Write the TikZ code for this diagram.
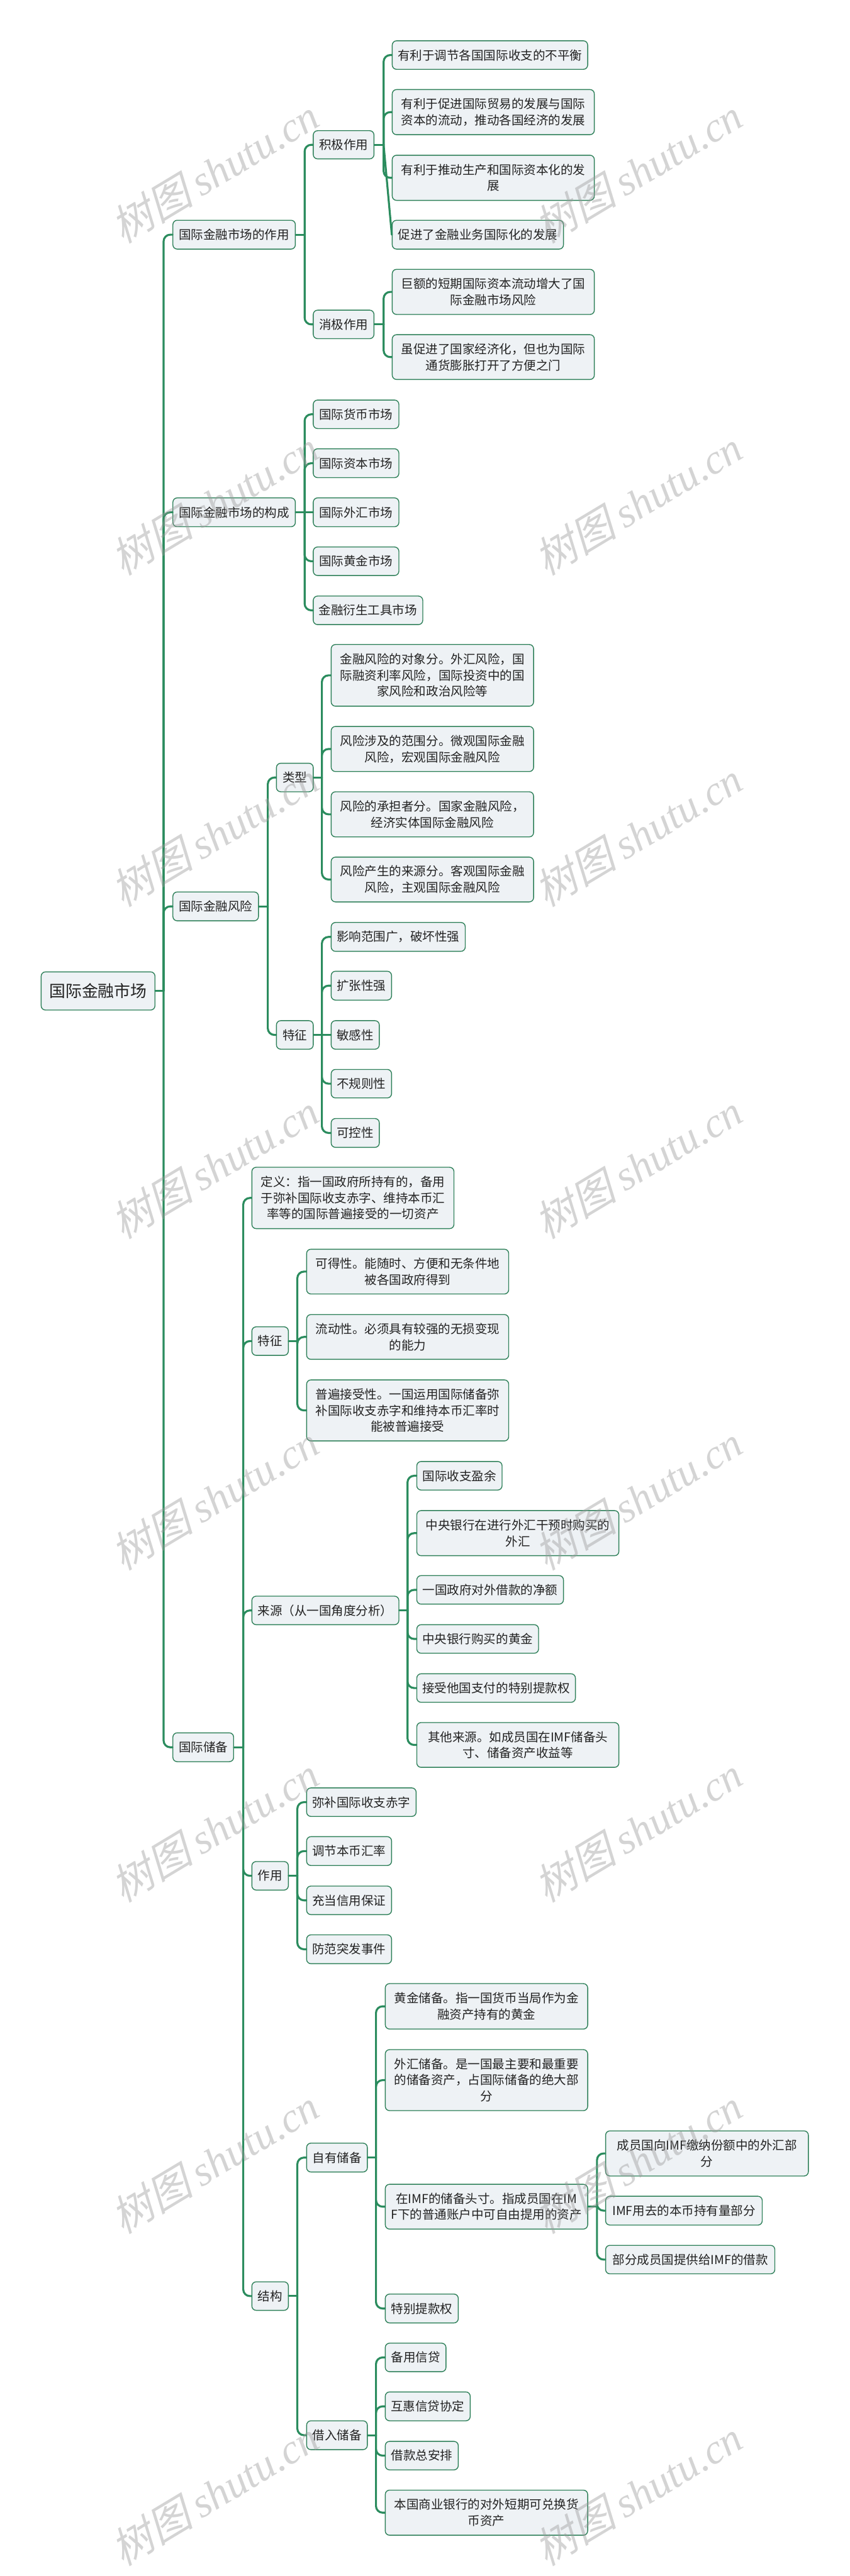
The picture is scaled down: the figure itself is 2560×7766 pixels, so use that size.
\documentclass[tikz,border=0pt]{standalone}
\usepackage{fontspec}
\newfontfamily\cjk{Noto Sans CJK SC}
\newfontfamily\wmcjk[FakeSlant=0.25]{Noto Sans CJK SC}
\newfontfamily\wmlat{Liberation Serif}
\definecolor{linkc}{HTML}{2B8C5E}
\definecolor{boxc}{HTML}{2E8059}
\definecolor{boxfill}{HTML}{EEF2F5}
\definecolor{textc}{HTML}{222222}
\newcommand\mnode[6][]{\node[box,#1,minimum width={(#4-#2)*0.5pt},minimum height={(#5-#3)*0.5pt}] (#6) at ({(#2+#4)/2},{(#3+#5)/2})}
\begin{document}
\begin{tikzpicture}[x=0.5pt,y=-0.5pt,
  box/.style={draw=boxc,line width=1.3pt,fill=boxfill,rounded corners=6.5pt,text=textc,
    inner sep=0pt,align=center,font=\cjk\fontsize{18.5pt}{24.3pt}\selectfont},
  rootbox/.style={font=\cjk\fontsize{24.5pt}{30pt}\selectfont},
  link/.style={draw=linkc,line width=3pt,rounded corners=10pt,line cap=round},
  wm/.style={rotate=31,text=black!40,text opacity=0.42,inner sep=0pt,font=\fontsize{63pt}{68pt}\selectfont}]
\useasboundingbox (0,0) rectangle (2560,7766);
\fill[white] (0,0) rectangle (2560,7766);

% root
\mnode[rootbox]{124}{2930}{467}{3045}{R}{国际金融市场};
% level 1
\mnode{521}{664}{890}{751}{A}{国际金融市场的作用};
\mnode{521}{1501}{890}{1588}{B}{国际金融市场的构成};
\mnode{521}{2689}{779}{2776}{C}{国际金融风险};
\mnode{521}{5224}{704}{5311}{D}{国际储备};
% A
\mnode{944}{394}{1127}{479}{A1}{积极作用};
\mnode{944}{935}{1127}{1021}{A2}{消极作用};
\mnode{1182}{123}{1771}{209}{A11}{有利于调节各国国际收支的不平衡};
\mnode{1182}{270}{1791}{406}{A12}{有利于促进国际贸易的发展与国际\\资本的流动，推动各国经济的发展};
\mnode{1182}{468}{1791}{604}{A13}{有利于推动生产和国际资本化的发\\展};
\mnode{1182}{664}{1698}{751}{A14}{促进了金融业务国际化的发展};
\mnode{1182}{812}{1791}{948}{A21}{巨额的短期国际资本流动增大了国\\际金融市场风险};
\mnode{1182}{1009}{1791}{1144}{A22}{虽促进了国家经济化，但也为国际\\通货膨胀打开了方便之门};
% B
\mnode{944}{1206}{1202}{1292}{B1}{国际货币市场};
\mnode{944}{1353}{1202}{1440}{B2}{国际资本市场};
\mnode{944}{1501}{1202}{1588}{B3}{国际外汇市场};
\mnode{944}{1649}{1202}{1735}{B4}{国际黄金市场};
\mnode{944}{1797}{1274}{1883}{B5}{金融衍生工具市场};
% C
\mnode{833}{2301}{944}{2387}{C1}{类型};
\mnode{833}{3077}{944}{3163}{C2}{特征};
\mnode{998}{1943}{1608}{2129}{C11}{金融风险的对象分。外汇风险，国\\际融资利率风险，国际投资中的国\\家风险和政治风险等};
\mnode{998}{2190}{1608}{2326}{C12}{风险涉及的范围分。微观国际金融\\风险，宏观国际金融风险};
\mnode{998}{2387}{1608}{2523}{C13}{风险的承担者分。国家金融风险，\\经济实体国际金融风险};
\mnode{998}{2584}{1608}{2719}{C14}{风险产生的来源分。客观国际金融\\风险，主观国际金融风险};
\mnode{998}{2781}{1402}{2868}{C21}{影响范围广，破坏性强};
\mnode{998}{2928}{1180}{3015}{C22}{扩张性强};
\mnode{998}{3077}{1143}{3163}{C23}{敏感性};
\mnode{998}{3224}{1180}{3310}{C24}{不规则性};
\mnode{998}{3372}{1143}{3459}{C25}{可控性};
% D
\mnode{759}{3519}{1368}{3704}{D1}{定义：指一国政府所持有的，备用\\于弥补国际收支赤字、维持本币汇\\率等的国际普遍接受的一切资产};
\mnode{759}{4000}{869}{4086}{D2}{特征};
\mnode{759}{4812}{1202}{4898}{D3}{来源（从一国角度分析）};
\mnode{759}{5612}{869}{5698}{D4}{作用};
\mnode{759}{6879}{869}{6965}{D5}{结构};
\mnode{924}{3766}{1533}{3901}{D21}{可得性。能随时、方便和无条件地\\被各国政府得到};
\mnode{924}{3963}{1533}{4098}{D22}{流动性。必须具有较强的无损变现\\的能力};
\mnode{924}{4160}{1533}{4344}{D23}{普遍接受性。一国运用国际储备弥\\补国际收支赤字和维持本币汇率时\\能被普遍接受};
\mnode{1256}{4406}{1513}{4492}{D31}{国际收支盈余};
\mnode{1256}{4554}{1865}{4690}{D32}{中央银行在进行外汇干预时购买的\\外汇};
\mnode{1256}{4750}{1698}{4836}{D33}{一国政府对外借款的净额};
\mnode{1256}{4898}{1623}{4984}{D34}{中央银行购买的黄金};
\mnode{1256}{5046}{1734}{5132}{D35}{接受他国支付的特别提款权};
\mnode{1256}{5193}{1865}{5328}{D36}{其他来源。如成员国在IMF储备头\\寸、储备资产收益等};
\mnode{924}{5390}{1254}{5476}{D41}{弥补国际收支赤字};
\mnode{924}{5537}{1180}{5624}{D42}{调节本币汇率};
\mnode{924}{5686}{1180}{5772}{D43}{充当信用保证};
\mnode{924}{5833}{1180}{5920}{D44}{防范突发事件};
\mnode{924}{6461}{1107}{6548}{D51}{自有储备};
\mnode{924}{7298}{1107}{7385}{D52}{借入储备};
\mnode{1161}{5980}{1771}{6117}{D511}{黄金储备。指一国货币当局作为金\\融资产持有的黄金};
\mnode{1161}{6179}{1771}{6363}{D512}{外汇储备。是一国最主要和最重要\\的储备资产，占国际储备的绝大部\\分};
\mnode{1161}{6585}{1771}{6720}{D513}{在IMF的储备头寸。指成员国在IM\\F下的普通账户中可自由提用的资产};
\mnode{1161}{6916}{1381}{7003}{D514}{特别提款权};
\mnode{1825}{6424}{2436}{6560}{D5131}{成员国向IMF缴纳份额中的外汇部\\分};
\mnode{1825}{6621}{2297}{6708}{D5132}{IMF用去的本币持有量部分};
\mnode{1825}{6769}{2335}{6855}{D5133}{部分成员国提供给IMF的借款};
\mnode{1161}{7064}{1344}{7150}{D521}{备用信贷};
\mnode{1161}{7211}{1417}{7298}{D522}{互惠信贷协定};
\mnode{1161}{7360}{1381}{7446}{D523}{借款总安排};
\mnode{1161}{7507}{1771}{7643}{D524}{本国商业银行的对外短期可兑换货\\币资产};

% junctions
\coordinate (jR) at (R.east -| 493,0);
\coordinate (jA) at (A.east -| 918,0);
\coordinate (jB) at (B.east -| 918,0);
\coordinate (jC) at (C.east -| 807,0);
\coordinate (jD) at (D.east -| 733,0);
\coordinate (jA1) at (A1.east -| 1156,0);
\coordinate (jA2) at (A2.east -| 1156,0);
\coordinate (jC1) at (C1.east -| 970,0);
\coordinate (jC2) at (C2.east -| 970,0);
\coordinate (jD2) at (D2.east -| 896,0);
\coordinate (jD3) at (D3.east -| 1228,0);
\coordinate (jD4) at (D4.east -| 896,0);
\coordinate (jD5) at (D5.east -| 896,0);
\coordinate (jD51) at (D51.east -| 1133,0);
\coordinate (jD52) at (D52.east -| 1133,0);
\coordinate (jD513) at (D513.east -| 1799,0);

% stubs
\foreach \p in {R,A,B,C,D,A1,A2,C1,C2,D2,D3,D4,D5,D51,D52,D513}
  \draw[link] (\p.east) -- (j\p);

% branches
\foreach \c in {A,B,C,D} \draw[link] (jR) |- (\c.west);
\foreach \c in {A1,A2} \draw[link] (jA) |- (\c.west);
\foreach \c in {A11,A12,A13} \draw[link] (jA1) |- (\c.west);
\draw[link] (jA1) -- (A14.west);
\foreach \c in {A21,A22} \draw[link] (jA2) |- (\c.west);
\foreach \c in {B1,B2,B4,B5} \draw[link] (jB) |- (\c.west);
\draw[link] (jB) -- (B3.west);
\foreach \c in {C1,C2} \draw[link] (jC) |- (\c.west);
\foreach \c in {C11,C12,C13,C14} \draw[link] (jC1) |- (\c.west);
\foreach \c in {C21,C22,C24,C25} \draw[link] (jC2) |- (\c.west);
\draw[link] (jC2) -- (C23.west);
\foreach \c in {D1,D2,D3,D4,D5} \draw[link] (jD) |- (\c.west);
\foreach \c in {D21,D22,D23} \draw[link] (jD2) |- (\c.west);
\foreach \c in {D31,D32,D33,D34,D35,D36} \draw[link] (jD3) |- (\c.west);
\foreach \c in {D41,D42,D43,D44} \draw[link] (jD4) |- (\c.west);
\foreach \c in {D51,D52} \draw[link] (jD5) |- (\c.west);
\foreach \c in {D511,D512,D513,D514} \draw[link] (jD51) |- (\c.west);
\foreach \c in {D5131,D5132,D5133} \draw[link] (jD513) |- (\c.west);
\foreach \c in {D521,D522,D523,D524} \draw[link] (jD52) |- (\c.west);

% watermarks
\foreach \k in {0,...,7}{
  \node[wm] (wl\k) at (646,{516+1000*\k}) {\wmcjk 树图\hspace{0.2em}\wmlat\itshape shutu.cn};
  \node[wm] (wr\k) at (1922,{516+1000*\k}) {\wmcjk 树图\hspace{0.2em}\wmlat\itshape shutu.cn};
}
\end{tikzpicture}
\end{document}
